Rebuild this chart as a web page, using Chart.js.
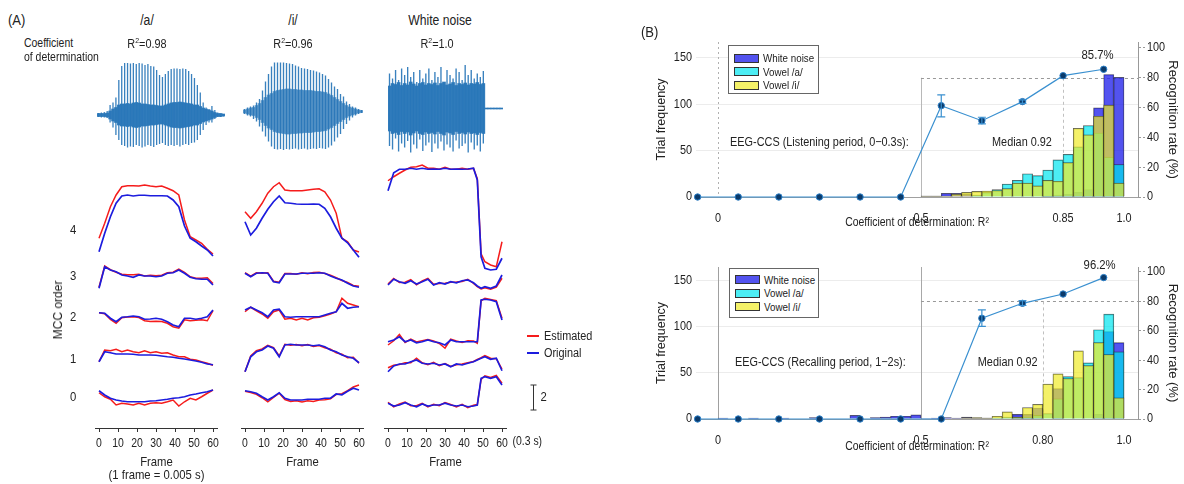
<!DOCTYPE html>
<html><head><meta charset="utf-8">
<script src="https://cdn.jsdelivr.net/npm/chart.js@4.4.1/dist/chart.umd.min.js"></script>
<style>
html,body{margin:0;padding:0;background:#fff;}
#wrap{position:relative;width:1184px;height:484px;overflow:hidden;font-family:"Liberation Sans",Arial,sans-serif;color:#222;}
canvas{position:absolute;}
.t{position:absolute;white-space:nowrap;line-height:1;transform:translate(-50%,-50%) scaleX(0.87);}
.tl{position:absolute;white-space:nowrap;line-height:1;transform-origin:0 50%;transform:translate(0,-50%) scaleX(0.87);}
.lg{position:absolute;border:1px solid #666;background:#fff;box-sizing:border-box;}
.sw{position:absolute;left:5px;width:25px;height:9px;border:1px solid #333;box-sizing:border-box;}
.lt{position:absolute;left:34px;transform-origin:0 50%;transform:translateY(-50%) scaleX(0.89);font-size:11px;line-height:1;white-space:nowrap;}
sup{font-size:8px;vertical-align:5px;line-height:0;}
</style></head>
<body><div id="wrap">
<canvas id="wA" width="128" height="100" style="left:97px;top:55px"></canvas>
<canvas id="wI" width="120" height="100" style="left:243px;top:55px"></canvas>
<canvas id="wN" width="115" height="100" style="left:388px;top:55px"></canvas>
<canvas id="m1" width="185" height="344" style="left:40px;top:140px"></canvas>
<canvas id="m2" width="145" height="344" style="left:228px;top:140px"></canvas>
<canvas id="m3" width="188" height="344" style="left:372px;top:140px"></canvas>
<canvas id="bTop" width="544" height="210" style="left:640px;top:30px"></canvas>
<canvas id="bBot" width="544" height="210" style="left:640px;top:255px"></canvas>

<div class="tl" style="left:8px;top:19px;font-size:15px">(A)</div>
<div class="t" style="left:147px;top:20px;font-size:14px">/a/</div>
<div class="t" style="left:293px;top:20px;font-size:14px">/i/</div>
<div class="t" style="left:440px;top:20px;font-size:14px">White noise</div>
<div class="tl" style="left:24px;top:43px;font-size:12px">Coefficient</div>
<div class="tl" style="left:24px;top:57px;font-size:12px">of determination</div>
<div class="t" style="left:147px;top:44px;font-size:12.5px">R<sup>2</sup>=0.98</div>
<div class="t" style="left:293px;top:44px;font-size:12.5px">R<sup>2</sup>=0.96</div>
<div class="t" style="left:437px;top:44px;font-size:12.5px">R<sup>2</sup>=1.0</div>
<div style="position:absolute;left:58px;top:310px;font-size:12px;line-height:1;white-space:nowrap;transform:translate(-50%,-50%) rotate(-90deg)">MCC order</div>
<div id="mccLegend"></div>
<div class="tl" style="left:641px;top:31px;font-size:15px">(B)</div>
<div class="lg" id="lgTop" style="left:728px;top:45px;width:91px;height:49px"></div>
<div class="lg" id="lgBot" style="left:729px;top:268px;width:90px;height:50px"></div>
</div>
<script>
// ---------- Panel A: waveforms ----------
const waveA_top = [0.04,0.05,0.06,0.08,0.2,0.25,0.35,0.7,0.98,1.04,1.04,1.03,1.04,1.02,1.04,1.03,1.0,1.02,0.98,0.97,0.9,0.8,0.76,0.82,0.88,0.92,0.93,0.93,0.92,0.93,0.92,0.88,0.82,0.74,0.6,0.45,0.25,0.15,0.12,0.18,0.1,0.05,0.03,0.02];
const waveA_bot = [-0.04,-0.05,-0.05,-0.06,-0.15,-0.25,-0.4,-0.5,-0.6,-0.62,-0.65,-0.63,-0.64,-0.6,-0.62,-0.65,-0.63,-0.6,-0.62,-0.64,-0.6,-0.58,-0.56,-0.6,-0.62,-0.6,-0.62,-0.6,-0.63,-0.6,-0.58,-0.6,-0.56,-0.55,-0.5,-0.4,-0.3,-0.2,-0.15,-0.15,-0.08,-0.04,-0.04,-0.03];
const waveA_body = [0.03,0.03,0.03,0.04,0.08,0.12,0.15,0.2,0.22,0.22,0.23,0.22,0.24,0.25,0.24,0.22,0.22,0.21,0.2,0.2,0.19,0.18,0.18,0.2,0.22,0.24,0.25,0.25,0.26,0.25,0.24,0.23,0.22,0.2,0.2,0.17,0.14,0.12,0.1,0.08,0.05,0.03,0.03,0.02];
const waveI_top = [0.05,0.08,0.1,0.12,0.18,0.25,0.42,0.6,0.75,0.9,0.98,0.98,0.98,0.98,0.97,0.96,0.95,0.92,0.9,0.87,0.86,0.85,0.83,0.82,0.8,0.78,0.75,0.72,0.65,0.58,0.5,0.45,0.35,0.3,0.2,0.15,0.1,0.08,0.05,0.03];
const waveI_bot = [-0.05,-0.08,-0.1,-0.15,-0.2,-0.3,-0.4,-0.5,-0.6,-0.7,-0.75,-0.76,-0.75,-0.77,-0.75,-0.76,-0.75,-0.74,-0.76,-0.75,-0.74,-0.76,-0.75,-0.74,-0.75,-0.73,-0.74,-0.75,-0.72,-0.68,-0.6,-0.52,-0.45,-0.35,-0.25,-0.18,-0.12,-0.08,-0.05,-0.03];
const waveI_body = [0.03,0.05,0.07,0.08,0.12,0.16,0.22,0.28,0.33,0.36,0.4,0.42,0.43,0.44,0.45,0.45,0.44,0.44,0.43,0.43,0.42,0.42,0.42,0.41,0.4,0.4,0.39,0.38,0.35,0.32,0.28,0.24,0.2,0.16,0.12,0.09,0.07,0.05,0.03,0.02];
const waveN_top = [0.7,0.6,0.77,0.57,0.8,0.67,0.83,0.63,0.73,0.53,0.77,0.6,0.7,0.8,0.57,0.73,0.63,0.83,0.53,0.77,0.67,0.6,0.8,0.73,0.57,0.87,0.67,0.77,0.6,0.7,0.63,0.75,0.01,0.01,0.01,0.01,0.01,0.01];
const waveN_bot = [-0.75,-0.82,-0.6,-0.86,-0.7,-0.78,-0.65,-0.88,-0.72,-0.8,-0.62,-0.85,-0.74,-0.68,-0.87,-0.7,-0.8,-0.66,-0.84,-0.72,-0.78,-0.86,-0.64,-0.8,-0.75,-0.7,-0.88,-0.68,-0.82,-0.74,-0.86,-0.7,-0.01,-0.01,-0.01,-0.01,-0.01,-0.01];
const waveN_body = [0.45,0.5,0.48,0.52,0.46,0.5,0.47,0.53,0.49,0.45,0.5,0.52,0.47,0.5,0.48,0.51,0.46,0.5,0.53,0.47,0.49,0.52,0.46,0.5,0.48,0.51,0.47,0.5,0.49,0.52,0.48,0.5,0.01,0.01,0.01,0.01,0.01,0.01];

// ---------- Panel A: MCC traces (relative to each order's baseline) ----------
const framesVowel = [0,3,6,9,12,15,18,21,24,27,30,33,36,39,42,45,48,51,54,57,60];
const framesNoise = [0,3,6,9,12,15,18,21,24,27,30,33,36,39,42,45,47,49,51,54,57,60];
const frameTicks = [0,10,20,30,40,50,60];
const orderLabels = ['0','1','2','3','4'];
const orderOffsets = [2.48,5.52,8.88,12.16,15.84];

const a_red = [
 [0.34,0.02,-0.18,-0.64,-0.5,-0.56,-0.64,-0.5,-0.64,-0.5,-0.46,-0.5,-0.38,-0.24,-0.72,-0.38,-0.1,-0.24,0.02,0.3,0.56],
 [-0.22,0.72,0.66,0.78,0.58,0.72,0.58,0.5,0.66,0.5,0.58,0.46,0.5,0.32,0.18,0.18,-0.02,-0.08,-0.22,-0.34,-0.5],
 [0.34,0.26,-0.2,-0.5,-0.06,0.0,0.02,-0.04,-0.3,-0.36,-0.34,-0.36,-0.5,-0.78,-0.9,-0.22,-0.3,-0.26,-0.22,-0.3,0.5],
 [-0.9,0.8,0.5,0.3,0.14,0.1,0.1,0.14,0.0,0.06,0.02,0.06,0.26,0.3,0.56,0.3,-0.06,-0.18,-0.18,-0.14,-0.6],
 [-0.66,0.54,1.86,2.8,3.46,3.54,3.54,3.52,3.6,3.52,3.46,3.52,3.34,3.14,2.8,0.8,-0.54,-0.8,-1.06,-1.54,-1.92]];
const a_blue = [
 [0.5,0.16,-0.1,-0.24,-0.32,-0.38,-0.38,-0.38,-0.38,-0.32,-0.3,-0.24,-0.18,-0.1,-0.06,0.02,0.16,0.24,0.34,0.42,0.56],
 [-0.22,0.58,0.5,0.4,0.4,0.4,0.38,0.32,0.32,0.32,0.3,0.24,0.18,0.14,0.06,0,-0.08,-0.16,-0.26,-0.4,-0.46],
 [0.34,0.3,-0.1,-0.38,-0.02,0.02,0.08,0.02,-0.18,-0.16,-0.1,-0.18,-0.38,-0.64,-0.78,-0.1,-0.1,-0.18,-0.1,0.02,0.56],
 [-0.98,0.74,0.48,0.34,0.08,0,-0.1,0.08,0,0,-0.06,0,0.22,0.26,0.48,0.22,-0.1,-0.22,-0.26,-0.26,-0.72],
 [-1.74,-0.26,1.06,2.14,2.72,2.8,2.72,2.78,2.78,2.74,2.74,2.74,2.72,2.4,1.86,0.32,-0.66,-0.94,-1.28,-1.6,-2.08]];
const i_red = [
 [0.46,0.36,0.22,-0.06,-0.38,-0.04,0.3,-0.2,-0.36,-0.3,-0.4,-0.3,-0.36,-0.24,-0.22,-0.14,0.2,0.26,0.5,0.8,0.96],
 [-1.02,0.24,0.66,0.8,1.1,0.92,0.24,1.18,1.1,1.16,1.06,1.16,1.0,1.08,0.9,0.78,0.5,0.38,0.1,0.14,-0.34],
 [0.42,0.78,0.5,0.24,-0.1,0.42,0.56,-0.18,-0.1,-0.24,-0.1,-0.24,-0.06,-0.02,0.1,0.24,0.42,1.5,1.1,0.96,0.82],
 [0.26,-0.02,0.26,0.22,0.26,-0.42,-0.5,0.2,0.2,0.14,0.26,0.18,0.28,0.3,0.2,0.06,-0.14,-0.36,-0.52,-0.76,-0.82],
 [1.46,0.94,1.46,2.14,2.94,3.46,3.78,3.2,3.14,3.14,3.14,3.2,3.26,3.3,3.06,2.4,1.34,-0.66,-0.94,-1.6,-1.76]];
const i_blue = [
 [0.5,0.42,0.3,0.02,-0.24,0.02,0.34,-0.1,-0.24,-0.24,-0.24,-0.18,-0.18,-0.18,-0.1,-0.1,0.24,0.18,0.46,0.7,0.56],
 [-1.02,0.18,0.58,0.72,1.04,0.86,0.18,1.12,1.18,1.12,1.12,1.12,1.06,1.12,0.98,0.72,0.58,0.32,0.18,0.06,-0.3],
 [0.56,0.78,0.56,0.34,0.02,0.56,0.62,0.02,-0.02,0.02,0.02,0.02,0.02,0.02,0.16,0.3,0.42,1.1,0.7,0.78,0.82],
 [0.22,-0.06,0.22,0.26,0.22,-0.46,-0.54,0.16,0.16,0.16,0.22,0.22,0.22,0.26,0.22,0,-0.18,-0.32,-0.58,-0.8,-0.9],
 [0.66,-0.4,0.14,0.94,1.66,2.26,2.72,2.18,2.14,2.08,2.06,2.06,2.08,2.06,1.74,1.06,0.14,-0.66,-1.02,-1.6,-2.18]];
const n_red = [
 [-0.42,-0.78,-0.56,-0.4,-0.7,-0.7,-0.5,-0.8,-0.58,-0.7,-0.44,-0.6,-0.8,-0.58,-0.86,-0.66,-0.6,1.4,1.7,1.56,1.72,1.1],
 [-0.7,-0.5,-0.44,-0.3,-0.3,0.06,-0.3,-0.46,-0.26,-0.54,-0.36,-0.6,-0.46,-0.4,-0.3,-0.2,-0.04,0.1,0.28,0.06,0.02,-0.8],
 [-2.24,-1.9,-1.4,-2.04,-1.76,-2.0,-1.9,-1.8,-1.92,-2.12,-2.5,-1.78,-1.92,-2.04,-1.9,-1.92,-2.1,1.3,1.5,1.4,1.3,-0.1],
 [-0.64,-0.2,-0.52,-0.5,-0.3,-0.7,-0.4,-0.2,-0.66,-0.6,-0.58,-0.5,-0.48,-0.44,-0.26,-0.6,-0.86,-1.04,-0.94,-1.06,-0.9,-0.18],
 [3.94,4.26,4.54,4.8,5.02,5.06,5.2,4.94,4.94,4.86,5.02,4.86,4.86,4.94,4.86,4.94,4.1,-1.9,-2.54,-2.8,-2.94,-0.94]];
const n_blue = [
 [-0.5,-0.72,-0.64,-0.46,-0.64,-0.78,-0.56,-0.72,-0.64,-0.64,-0.5,-0.64,-0.72,-0.64,-0.78,-0.72,-0.64,1.5,1.62,1.5,1.62,0.96],
 [-1.02,-0.56,-0.4,-0.4,-0.22,-0.08,-0.34,-0.4,-0.34,-0.48,-0.4,-0.62,-0.4,-0.48,-0.34,-0.22,-0.08,0.06,0.18,-0.02,0.06,-0.94],
 [-1.98,-1.84,-1.58,-1.98,-1.84,-2.06,-1.98,-1.84,-1.98,-2.06,-2.24,-1.84,-1.98,-1.98,-1.98,-1.98,-1.98,1.36,1.42,1.36,1.22,-0.24],
 [-0.72,-0.26,-0.46,-0.58,-0.38,-0.64,-0.46,-0.26,-0.72,-0.54,-0.64,-0.46,-0.54,-0.38,-0.32,-0.54,-0.8,-0.98,-0.86,-0.98,-0.8,0.08],
 [3.14,4.58,4.86,4.86,4.94,4.86,4.94,4.86,4.88,4.86,4.94,4.86,4.88,4.86,4.88,4.94,4.0,-2.14,-3.06,-3.2,-3.14,-2.26]];
const mccSeriesLabels = ['Estimated','Original'];

// ---------- Panel B: histograms and recognition rate ----------
const binCenters = [-0.0375,-0.0125,0.0125,0.0375,0.0625,0.0875,0.1125,0.1375,0.1625,0.1875,0.2125,0.2375,0.2625,0.2875,0.3125,0.3375,0.3625,0.3875,0.4125,0.4375,0.4625,0.4875,0.5125,0.5375,0.5625,0.5875,0.6125,0.6375,0.6625,0.6875,0.7125,0.7375,0.7625,0.7875,0.8125,0.8375,0.8625,0.8875,0.9125,0.9375,0.9625,0.9875];
const histLabels = ['White noise','Vowel /a/','Vowel /i/'];
const listenNoise = [0,0,0,0,0,0,0,0,0,0,0,0,0,0,0,0,0,0,0,0,0,0, 1,1,4,4,3,0,0,0,0,0,0,0,1,2,3,5,8,96,132,129];
const listenA     = [0,0,0,0,0,0,0,0,0,0,0,0,0,0,0,0,0,0,0,0,0,0, 0,0,0,0,0,2,5,8,14,18,25,23,29,40,46,54,77,69,43,35];
const listenI     = [0,0,0,0,0,0,0,0,0,0,0,0,0,0,0,0,0,0,0,0,0,0, 1,1,1,3,5,6,6.5,7,9,15,15,12,18,17,37,74,67,87,99,15];
const recallNoise = [0,0,1,0,0,1,0,0,1,0,0,1.5,0,0,0,4,0,1.5,2,3,3,4.5, 0.5,1,1.5,1,2,1,1,0,0,5,5,12,0,33,0,0,0,5,95,83];
const recallA     = [0,0,0,0,0,0,0,0,0,0,0,0,0,0,0,0,0,0,0,0,0,0, 0,0,0,0,0,0,0,1,2,2,2,4,6,22,46,45,61,97,114,73];
const recallI     = [0,0,0,0,0,0,0,0,0,0,0,0,0,0,0,0,0,0,0,0,0,0, 0,0,0,0.5,1.5,1.5,1,3,7.7,2,12.4,16,38,49,44,74,58,83,70,23];
const rateX = [-0.05,0.05,0.15,0.25,0.35,0.45,0.55,0.65,0.75,0.85,0.95];
const listenRate  = [0,0,0,0,0,0,61.3,51.2,64,81.4,85.7];
const listenErrLo = [null,null,null,null,null,null,53.7,49,62.8,null,null];
const listenErrHi = [null,null,null,null,null,null,68.5,53.5,65.2,null,null];
const recallRate  = [0,0,0,0,0,0,0,68.5,78.7,85,96.2];
const recallErrLo = [null,null,null,null,null,null,null,63,77.2,null,null];
const recallErrHi = [null,null,null,null,null,null,null,74.2,80.5,null,null];
const countTicks = [0,50,100,150];
const rateTicks = [0,20,40,60,80,100];
const listenXTicks = [0,0.5,0.85,1.0], listenXLabels = ['0','0.5','0.85','1.0'];
const recallXTicks = [0,0.5,0.80,1.0], recallXLabels = ['0','0.5','0.80','1.0'];

// ---------- styling ----------
const FONT = '"Liberation Sans",Arial,sans-serif';
Chart.defaults.font.family = FONT;
Chart.defaults.color = '#222';
const WAVE = 'rgba(40,118,184,0.92)';
const RED_C = 'rgb(245,28,28)', BLUE_C = 'rgb(28,28,222)';
const histColors = ['rgba(40,40,235,0.8)','rgba(0,230,240,0.7)','rgba(240,235,40,0.7)'];
const el = id => document.getElementById(id);
const base = {responsive:false, animation:false, events:[]};

// the source figure is horizontally condensed: narrow every horizontal canvas text a little
const condense = {
  id:'condense',
  beforeInit(chart) {
    const ctx = chart.ctx, orig = ctx.fillText.bind(ctx);
    ctx.fillText = function(t, x, y, mw) {
      const m = ctx.getTransform();
      if (Math.abs(m.b) > 1e-6) return orig(t, x, y, mw);
      ctx.save(); ctx.translate(x, y); ctx.scale(0.87, 1);
      if (mw === undefined) orig(t, 0, 0); else orig(t, 0, 0, mw / 0.87);
      ctx.restore();
    };
  }
};
Chart.register(condense);

function wave(id, top, bot, body, yMin, yMax, bodyColor) {
  return new Chart(el(id), {
    type:'bar',
    data:{labels: top.map((_, i) => i), datasets:[
      {data: top.map((t, i) => [bot[i], t]), backgroundColor: WAVE, barPercentage:0.45, categoryPercentage:1, grouped:false, order:0},
      {data: body.map(b => [-b, b]), backgroundColor: bodyColor, barPercentage:1, categoryPercentage:1, grouped:false, order:1}
    ]},
    options:{...base, layout:{padding:0}, plugins:{legend:{display:false}, tooltip:{enabled:false}},
      scales:{x:{display:false}, y:{display:false, min:yMin, max:yMax}}}
  });
}
wave('wA', waveA_top, waveA_bot, waveA_body, -0.8, 1.2, 'rgba(40,118,184,0.95)');
wave('wI', waveI_top, waveI_bot, waveI_body, -0.87, 1.13, 'rgba(40,118,184,0.72)');
wave('wN', waveN_top, waveN_bot, waveN_body, -0.93, 1.07, 'rgba(40,118,184,0.95)');

const mccExtras = {
  id:'mccExtras',
  afterDraw(chart, args, o) {
    const ctx = chart.ctx, xs = chart.scales.x, ys = chart.scales.y;
    ctx.save();
    ctx.fillStyle = '#222';
    ctx.font = '12px ' + FONT; ctx.textAlign = 'left'; ctx.textBaseline = 'top';
    ctx.fillText(o.unitText, xs.getPixelForValue(o.unitAt) + 10.5, xs.top + 8);
    const bx = Math.round(chart.chartArea.right + 26.5) + 0.5;
    const y1 = ys.getPixelForValue(o.barFrom), y2 = ys.getPixelForValue(o.barFrom + o.barLen);
    ctx.strokeStyle = '#333'; ctx.lineWidth = 1;
    ctx.beginPath();
    ctx.moveTo(bx, y1); ctx.lineTo(bx, y2);
    ctx.moveTo(bx - 3, y1); ctx.lineTo(bx + 3, y1);
    ctx.moveTo(bx - 3, y2); ctx.lineTo(bx + 3, y2);
    ctx.stroke();
    ctx.font = '13px ' + FONT; ctx.textBaseline = 'middle';
    ctx.fillText(String(o.barLen), bx + 7, (y1 + y2) / 2);
    ctx.restore();
  }
};

function mcc(id, frames, red, blue, o) {
  const ds = [];
  for (let k = 0; k < 5; k++) {
    ds.push({label: mccSeriesLabels[1], data: frames.map((f, i) => ({x: f, y: orderOffsets[k] + blue[k][i]})), borderColor: BLUE_C, borderWidth:1.7, pointRadius:0, order:0});
    ds.push({label: mccSeriesLabels[0], data: frames.map((f, i) => ({x: f, y: orderOffsets[k] + red[k][i]})), borderColor: RED_C, borderWidth:1.5, pointRadius:0, order:1});
  }
  return new Chart(el(id), {
    type:'line',
    data:{datasets: ds},
    options:{...base,
      layout:{padding:{left:o.padL, right:o.padR, top:20, bottom:0}},
      plugins:{legend:{display:false}, tooltip:{enabled:false}, mccExtras: o.extras || {}},
      scales:{
        x:{type:'linear', min:-2, max:62.5,
           grid:{display:true, drawOnChartArea:false, drawTicks:true, tickLength:4, tickColor:'#333'},
           border:{display:true, color:'#333'},
           ticks:{font:{size:12}, padding:4, color:'#222', maxRotation:0, callback:(v, i) => String(frameTicks[i])},
           afterBuildTicks: a => { a.ticks = frameTicks.map(v => ({value: v})); },
           afterFit: s => { s.height = 56; },
           title:{display:true, text:o.title, color:'#222', font:{size:13, lineHeight:1}, padding:{top:0, bottom:o.titlePadB}}},
        y:{type:'linear', min:0, max:21.44, display:o.showY,
           grid:{display:false}, border:{display:false},
           ticks:{font:{size:13}, padding:11, color:'#222', callback:(v, i) => orderLabels[i]},
           afterBuildTicks: a => { a.ticks = orderOffsets.map(v => ({value: v})); },
           afterFit: s => { s.width = o.showY ? 55.2 : 0; }}
      }},
    plugins: o.extras ? [mccExtras] : []
  });
}
mcc('m1', framesVowel, a_red, a_blue, {padL:0, padR:7.25, showY:true, title:['Frame','(1 frame = 0.005 s)'], titlePadB:2.5});
mcc('m2', framesVowel, i_red, i_blue, {padL:13.2, padR:9.25, showY:false, title:'Frame', titlePadB:15.5});
mcc('m3', framesNoise, n_red, n_blue, {padL:12.2, padR:53.25, showY:false, title:'Frame', titlePadB:15.5,
  extras:{unitText:'(0.3 s)', unitAt:60, barFrom:1.44, barLen:2}});

// MCC legend (built from series labels)
(function(){
  const box = el('mccLegend');
  [[RED_C, 336], [BLUE_C, 353]].forEach((c, i) => {
    const ln = document.createElement('div');
    ln.style.cssText = `position:absolute;left:527px;top:${c[1]-1}px;width:12px;height:2px;background:${c[0]}`;
    box.appendChild(ln);
    const tx = document.createElement('div');
    tx.className = 'tl'; tx.style.left = '544px'; tx.style.top = c[1] + 'px'; tx.style.fontSize = '12.5px';
    tx.textContent = mccSeriesLabels[i];
    box.appendChild(tx);
  });
})();

// ---------- Panel B charts ----------
const bDecor = {
  id:'bDecor',
  beforeDatasetsDraw(chart, args, o) {
    const {ctx, chartArea: ca, scales: {x, y1}} = chart;
    ctx.save(); ctx.lineWidth = 1;
    for (const L of o.lines) {
      ctx.beginPath(); ctx.setLineDash(L.dash || []); ctx.strokeStyle = L.color;
      if (L.x !== undefined) {
        const px = Math.round(x.getPixelForValue(L.x)) + 0.5;
        const yt = L.toRate !== undefined ? y1.getPixelForValue(L.toRate) : ca.top;
        ctx.moveTo(px, yt); ctx.lineTo(px, ca.bottom);
      } else {
        const py = Math.round(y1.getPixelForValue(L.rate)) + 0.5;
        ctx.moveTo(x.getPixelForValue(L.fromX), py); ctx.lineTo(ca.right, py);
      }
      ctx.stroke();
    }
    ctx.restore();
  },
  afterDatasetsDraw(chart, args, o) {
    const {ctx, scales: {x, y, y1}} = chart;
    ctx.save();
    ctx.strokeStyle = '#3a90d0'; ctx.lineWidth = 1.2; ctx.setLineDash([]);
    rateX.forEach((xv, i) => {
      if (o.errLo[i] === null) return;
      const px = x.getPixelForValue(xv), a = y1.getPixelForValue(o.errLo[i]), b = y1.getPixelForValue(o.errHi[i]);
      ctx.beginPath();
      ctx.moveTo(px, a); ctx.lineTo(px, b);
      ctx.moveTo(px - 4, a); ctx.lineTo(px + 4, a);
      ctx.moveTo(px - 4, b); ctx.lineTo(px + 4, b);
      ctx.stroke();
    });
    ctx.fillStyle = '#222'; ctx.textBaseline = 'middle';
    for (const T of o.texts) {
      ctx.font = T.size + 'px ' + FONT; ctx.textAlign = T.align;
      ctx.fillText(T.text, x.getPixelForValue(T.x), y.getPixelForValue(T.y));
    }
    ctx.restore();
  }
};

function recog(id, o) {
  const bars = (i, vals, order) => ({type:'bar', label: histLabels[i], data: binCenters.map((c, k) => ({x: c, y: vals[k]})),
    backgroundColor: histColors[i], borderColor:'rgba(35,35,35,0.75)', borderWidth:0.7, grouped:false,
    barPercentage:1, categoryPercentage:1, yAxisID:'y', order});
  return new Chart(el(id), {
    type:'bar',
    data:{datasets:[
      {type:'line', label:'Recognition rate', data: rateX.map((xv, i) => ({x: xv, y: o.rate[i]})), yAxisID:'y1',
       borderColor:'#3a90d0', borderWidth:1.2, pointRadius:3.2, pointBackgroundColor:'#0b3a6a', pointBorderColor:'#2c80c8', pointBorderWidth:1, clip:false, order:0},
      bars(2, o.vI, 1), bars(1, o.vA, 2), bars(0, o.vN, 3)
    ]},
    options:{...base,
      layout:{padding:{top:12, left:0, right:0, bottom:0}},
      plugins:{legend:{display:false}, tooltip:{enabled:false}, bDecor:{lines:o.lines, texts:o.texts, errLo:o.errLo, errHi:o.errHi}},
      scales:{
        x:{type:'linear', min:-0.054, max:1.0345, offset:false,
           grid:{display:false}, border:{display:true, color:'#a0a0a0'},
           ticks:{font:{size:12.5}, padding:6, color:'#222', maxRotation:0, callback:(v, i) => o.xLabels[i]},
           afterBuildTicks: a => { a.ticks = o.xTicks.map(v => ({value: v})); },
           afterFit: s => { s.height = o.xH; },
           title:{display:true, text:'Coefficient of determination: R²', color:'#222', font:{size:12}, padding:{top:0, bottom:o.xTitlePad}}},
        y:{position:'left', min:0, max:o.yMax,
           grid:{color:'#ececec', drawTicks:false}, border:{display:false},
           ticks:{font:{size:12.5}, padding:4, color:'#222', callback:(v, i) => String(countTicks[i])},
           afterBuildTicks: a => { a.ticks = countTicks.map(v => ({value: v})); },
           afterFit: s => { s.width = 56; },
           title:{display:true, text:'Trial frequency', color:'#222', font:{size:12.5}, padding:{top:14.5, bottom:0}}},
        y1:{position:'right', min:0, max:o.y1Max,
           grid:{drawOnChartArea:false, drawTicks:true, tickLength:7, tickColor:'#999', tickBorderDash:[2,2]},
           border:{display:true, color:'#999', dash:[2,2]},
           ticks:{font:{size:12.5}, padding:2, color:'#222', callback:(v, i) => String(rateTicks[i])},
           afterBuildTicks: a => { a.ticks = rateTicks.map(v => ({value: v})); },
           afterFit: s => { s.width = 46; },
           title:{display:true, text:'Recognition rate (%)', color:'#222', font:{size:13}, padding:{top:4, bottom:0}}}
      }},
    plugins:[bDecor]
  });
}

recog('bTop', {vN: listenNoise, vA: listenA, vI: listenI, rate: listenRate, errLo: listenErrLo, errHi: listenErrHi,
  xTicks: listenXTicks, xLabels: listenXLabels, xH:43, xTitlePad:10, yMax:167, y1Max:104,
  lines:[{x:0, dash:[2,3], color:'#b0b0b0'}, {x:0.5, toRate:80, color:'#b8b8b8'}, {rate:80, fromX:0.5, dash:[3,3], color:'#999'}, {x:0.85, toRate:80, dash:[3,3], color:'#c0c0c0'}],
  texts:[{text:'EEG-CCS (Listening period, 0\u22120.3s):', x:0.03, y:59, align:'left', size:12.5},
         {text:'Median 0.92', x:0.675, y:59, align:'left', size:12.5},
         {text:'85.7%', x:0.935, y:153, align:'center', size:13}]});
recog('bBot', {vN: recallNoise, vA: recallA, vI: recallI, rate: recallRate, errLo: recallErrLo, errHi: recallErrHi,
  xTicks: recallXTicks, xLabels: recallXLabels, xH:46, xTitlePad:10.8, yMax:165.2, y1Max:103.4,
  lines:[{x:0, color:'#a0a0a0'}, {x:0.5, color:'#a8a8a8'}, {rate:80, fromX:0.5, dash:[3,3], color:'#999'}, {x:0.80, toRate:80, dash:[3,3], color:'#c0c0c0'}],
  texts:[{text:'EEG-CCS (Recalling period, 1\u22122s):', x:0.042, y:61, align:'left', size:12.5},
         {text:'Median 0.92', x:0.64, y:61, align:'left', size:12.5},
         {text:'96.2%', x:0.94, y:167.4, align:'center', size:13}]});

function legendBox(id, rows) {
  const box = el(id);
  histLabels.forEach((lab, i) => {
    const sw = document.createElement('div'); sw.className = 'sw';
    sw.style.top = (rows[i] - 4.5) + 'px'; sw.style.background = histColors[i]; box.appendChild(sw);
    const tx = document.createElement('div'); tx.className = 'lt';
    tx.style.top = rows[i] + 'px'; tx.textContent = lab; box.appendChild(tx);
  });
}
legendBox('lgTop', [12, 25.5, 39]);
legendBox('lgBot', [10.5, 24, 37.5]);
</script>
</body></html>
